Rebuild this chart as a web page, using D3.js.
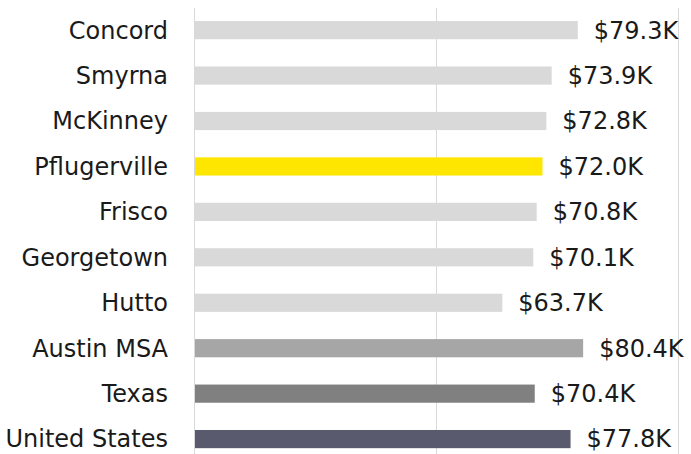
<!DOCTYPE html>
<html>
<head>
<meta charset="utf-8">
<script src="https://cdn.jsdelivr.net/npm/d3@7"></script>
<style>
  body { margin: 0; background: #fff; }
</style>
</head>
<body>
<div id="wrapper"></div>
<script>
const names = ["Concord", "Smyrna", "McKinney", "Pflugerville", "Frisco", "Georgetown", "Hutto", "Austin MSA", "Texas", "United States"]
const values = [79.3, 73.9, 72.8, 72.0, 70.8, 70.1, 63.7, 80.4, 70.4, 77.8]
const barColors = ["#d9d9d9", "#d9d9d9", "#d9d9d9", "#ffe600", "#d9d9d9", "#d9d9d9", "#d9d9d9", "#a6a6a6", "#808080", "#5a5a6e"]
const gridTicks = [0, 50, 100]

const width = 691
const height = 454

const svg = d3.select("#wrapper").append("svg")
    .attr("width", width)
    .attr("height", height)
    .style("font-family", "'DejaVu Sans', sans-serif")
    .style("font-size", "24px")

const x = d3.scaleLinear()
    .domain([0, 100])
    .range([194, 678])

const y = d3.scaleBand()
    .domain(names)
    .range([7.4, 461.8])
    .paddingInner(0.6)
    .paddingOuter(0.3)

// grid lines
svg.append("g")
    .selectAll("line")
    .data(gridTicks)
    .join("line")
    .attr("x1", d => x(d) + 0.5)
    .attr("x2", d => x(d) + 0.5)
    .attr("y1", 8)
    .attr("y2", height)
    .attr("stroke", "#d9d9d9")
    .attr("stroke-width", 1)

const rows = names.map((n, i) => ({ name: n, value: values[i], color: barColors[i] }))

// bars
svg.append("g")
    .selectAll("rect")
    .data(rows)
    .join("rect")
    .attr("x", x(0) + 1)
    .attr("y", d => y(d.name))
    .attr("width", d => x(d.value) - x(0) - 1)
    .attr("height", y.bandwidth())
    .attr("fill", d => d.color)

// category labels
svg.append("g")
    .selectAll("text")
    .data(rows)
    .join("text")
    .attr("x", 168)
    .attr("y", d => y(d.name) + y.bandwidth() / 2)
    .attr("dy", "0.35em")
    .attr("text-anchor", "end")
    .attr("fill", "#1a1a1a")
    .text(d => d.name)

// value labels
svg.append("g")
    .selectAll("text")
    .data(rows)
    .join("text")
    .attr("x", d => x(d.value) + 16)
    .attr("y", d => y(d.name) + y.bandwidth() / 2)
    .attr("dy", "0.35em")
    .attr("fill", "#1a1a1a")
    .text(d => "$" + d.value.toFixed(1) + "K")
</script>
</body>
</html>
